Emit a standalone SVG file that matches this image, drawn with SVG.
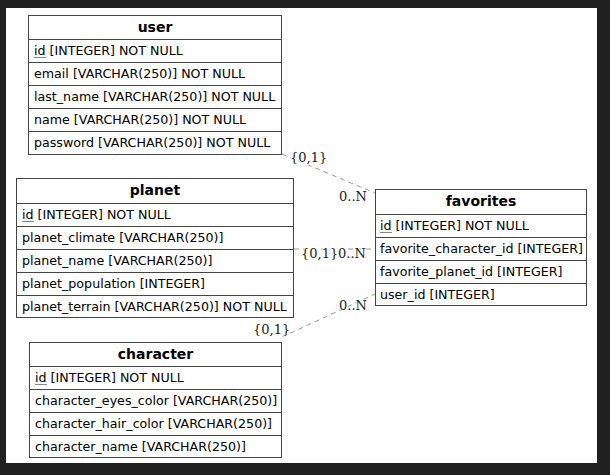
<svg xmlns="http://www.w3.org/2000/svg" width="610" height="475" viewBox="0 0 610 475">
<style>
.tb{fill:#fff;stroke:#444;stroke-width:1}
.sep{stroke:#444;stroke-width:1}
.hd{font-family:"DejaVu Sans",sans-serif;font-size:14px;font-weight:bold;fill:#000;text-anchor:middle}
.rw{font-family:"DejaVu Sans",sans-serif;font-size:12.65px;fill:#000}
.ul{stroke:#888;stroke-width:1}
.edge{stroke:#999;stroke-width:1;stroke-dasharray:5,4;fill:none}
.lb{font-family:"DejaVu Serif",serif;font-size:13px;fill:#222;paint-order:stroke;stroke:#fff;stroke-width:2px}
</style>
<rect x="0" y="0" width="610" height="475" fill="#202020"/>
<rect x="6" y="8" width="591" height="455" fill="#fff"/>
<g id="connectors">
<line class="edge" x1="282" y1="154" x2="375" y2="193"/>
<line class="edge" x1="294" y1="249" x2="375" y2="249"/>
<line class="edge" x1="282" y1="337" x2="375" y2="294"/>
<text class="lb" x="290" y="162">{0,1}</text>
<text class="lb" x="339" y="201">0..N</text>
<text class="lb" x="301" y="258">{0,1}</text>
<text class="lb" x="338" y="258">0..N</text>
<text class="lb" x="253" y="334">{0,1}</text>
<text class="lb" x="339" y="310">0..N</text>
</g>
<g id="user">
<rect class="tb" x="28.5" y="15.5" width="253" height="139"/>
<line class="sep" x1="28.5" y1="39.5" x2="281.5" y2="39.5"/>
<line class="sep" x1="28.5" y1="62.5" x2="281.5" y2="62.5"/>
<line class="sep" x1="28.5" y1="85.5" x2="281.5" y2="85.5"/>
<line class="sep" x1="28.5" y1="108.5" x2="281.5" y2="108.5"/>
<line class="sep" x1="28.5" y1="131.5" x2="281.5" y2="131.5"/>
<text class="hd" x="155" y="32">user</text>
<text class="rw" x="34" y="55">id [INTEGER] NOT NULL</text>
<line class="ul" x1="34" y1="57.5" x2="46" y2="57.5"/>
<text class="rw" x="34" y="78">email [VARCHAR(250)] NOT NULL</text>
<text class="rw" x="34" y="101">last_name [VARCHAR(250)] NOT NULL</text>
<text class="rw" x="34" y="124">name [VARCHAR(250)] NOT NULL</text>
<text class="rw" x="34" y="147">password [VARCHAR(250)] NOT NULL</text>
</g>
<g id="planet">
<rect class="tb" x="16.5" y="178.5" width="277" height="139"/>
<line class="sep" x1="16.5" y1="203.5" x2="293.5" y2="203.5"/>
<line class="sep" x1="16.5" y1="226.5" x2="293.5" y2="226.5"/>
<line class="sep" x1="16.5" y1="249.5" x2="293.5" y2="249.5"/>
<line class="sep" x1="16.5" y1="272.5" x2="293.5" y2="272.5"/>
<line class="sep" x1="16.5" y1="295.5" x2="293.5" y2="295.5"/>
<text class="hd" x="155" y="195">planet</text>
<text class="rw" x="22" y="219">id [INTEGER] NOT NULL</text>
<line class="ul" x1="22" y1="221.5" x2="34" y2="221.5"/>
<text class="rw" x="22" y="242">planet_climate [VARCHAR(250)]</text>
<text class="rw" x="22" y="265">planet_name [VARCHAR(250)]</text>
<text class="rw" x="22" y="288">planet_population [INTEGER]</text>
<text class="rw" x="22" y="311">planet_terrain [VARCHAR(250)] NOT NULL</text>
</g>
<g id="character">
<rect class="tb" x="29.5" y="342.5" width="252" height="115"/>
<line class="sep" x1="29.5" y1="366.5" x2="281.5" y2="366.5"/>
<line class="sep" x1="29.5" y1="389.5" x2="281.5" y2="389.5"/>
<line class="sep" x1="29.5" y1="412.5" x2="281.5" y2="412.5"/>
<line class="sep" x1="29.5" y1="435.5" x2="281.5" y2="435.5"/>
<text class="hd" x="155.5" y="359">character</text>
<text class="rw" x="35" y="382">id [INTEGER] NOT NULL</text>
<line class="ul" x1="35" y1="384.5" x2="47" y2="384.5"/>
<text class="rw" x="35" y="405">character_eyes_color [VARCHAR(250)]</text>
<text class="rw" x="35" y="428">character_hair_color [VARCHAR(250)]</text>
<text class="rw" x="35" y="451">character_name [VARCHAR(250)]</text>
</g>
<g id="favorites">
<rect class="tb" x="375.5" y="189.5" width="211" height="116"/>
<line class="sep" x1="375.5" y1="214.5" x2="586.5" y2="214.5"/>
<line class="sep" x1="375.5" y1="237.5" x2="586.5" y2="237.5"/>
<line class="sep" x1="375.5" y1="260.5" x2="586.5" y2="260.5"/>
<line class="sep" x1="375.5" y1="283.5" x2="586.5" y2="283.5"/>
<text class="hd" x="481" y="206">favorites</text>
<text class="rw" x="380" y="230">id [INTEGER] NOT NULL</text>
<line class="ul" x1="380" y1="232.5" x2="392" y2="232.5"/>
<text class="rw" x="380" y="253">favorite_character_id [INTEGER]</text>
<text class="rw" x="380" y="276">favorite_planet_id [INTEGER]</text>
<text class="rw" x="380" y="299">user_id [INTEGER]</text>
</g>
</svg>
